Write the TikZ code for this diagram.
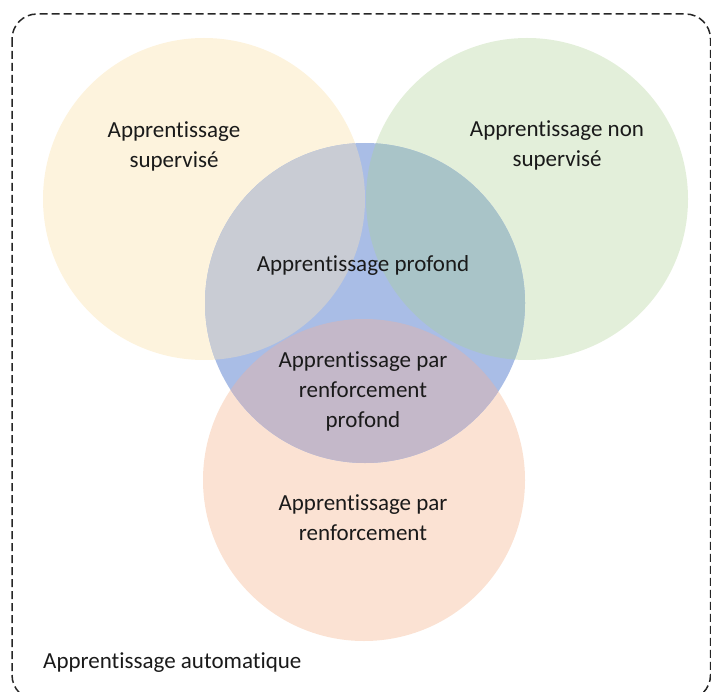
\documentclass[tikz,border=0pt]{standalone}
\usepackage{fontspec}
\setmainfont{Carlito}[RawFeature={-liga;-dlig;-clig;-calt;-hlig}]
\newcommand\Ap{Apprent\kern0pt issage}
\definecolor{cyel}{HTML}{FDF3DD}
\definecolor{cgrn}{HTML}{E3EFDA}
\definecolor{cblu}{HTML}{A9BDE6}
\definecolor{corg}{HTML}{FBE2D3}
\definecolor{cby}{HTML}{C9CCD4}
\definecolor{cbg}{HTML}{A9C4C8}
\definecolor{cbo}{HTML}{C4B8C9}
\definecolor{ctxt}{HTML}{1A1A1A}
\tikzset{
  lbl/.style={font=\fontsize{23}{30}\selectfont, text=ctxt, align=center, inner sep=0pt},
  frame/.style={draw=black!85, line width=1.5pt, dash pattern=on 8pt off 4pt, rounded corners=25pt}
}
\begin{document}
\begin{tikzpicture}[x=1pt,y=-1pt]
\useasboundingbox (0,0) rectangle (711,692);
\begin{scope}
\clip (0,0) rectangle (711,692);
\coordinate (cy) at (204,199);
\coordinate (cg) at (527,199);
\coordinate (cb) at (365,303);
\coordinate (co) at (364,480);
\fill[cyel] (cy) circle (161);
\fill[cgrn] (cg) circle (161);
\fill[corg] (co) circle (161);
\fill[cblu] (cb) circle (160);
\begin{scope}
  \clip (cb) circle (160);
  \fill[cby] (cy) circle (161);
  \fill[cbg] (cg) circle (161);
  \fill[cbo] (co) circle (161);
\end{scope}
\draw[frame] (12,14) rectangle (710.5,700);
\end{scope}
\node[lbl] (sup) at (174,146) {\Ap\\supervisé};
\node[lbl] (nsup) at (557,145) {\Ap{} non\\supervisé};
\node[lbl] (prof) at (363,265) {\Ap{} profond};
\node[lbl] (rlp) at (363,391) {\Ap{} par\\renforcement\\profond};
\node[lbl] (rl) at (363,518) {\Ap{} par\\renforcement};
\node[lbl, anchor=west] (ml) at (43,663) {\Ap{} automat\kern0pt ique};
\end{tikzpicture}
\end{document}
